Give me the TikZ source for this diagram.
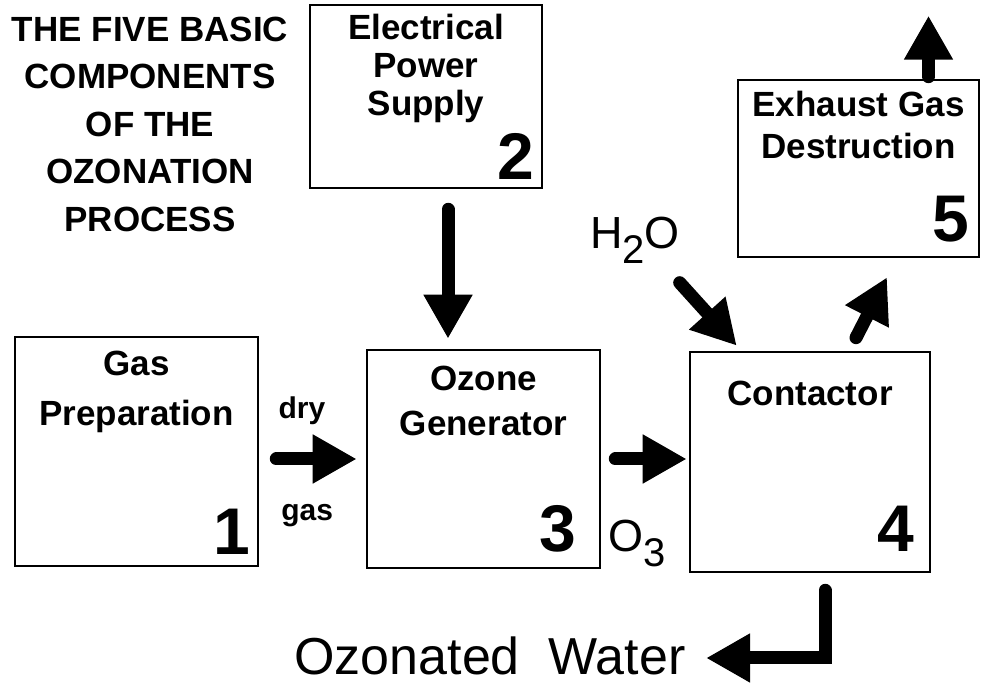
\documentclass[tikz,border=0pt]{standalone}
\usepackage{fontspec}
\setmainfont{Liberation Sans}
\usepackage{tikz}
\usetikzlibrary{arrows.meta, positioning, calc}
\tikzstyle{unit}      = [rectangle, draw=black, line width=2.6pt, inner sep=0pt]
\tikzstyle{unitlabel} = [align=center, inner sep=0pt, font=\bfseries\fontsize{35}{45}\selectfont]
\tikzstyle{unitnum}   = [inner sep=0pt, anchor=base east, font=\bfseries\fontsize{66}{66}\selectfont]
\tikzstyle{flow}      = [line width=13pt, line cap=round, -{Triangle[length=44pt,width=46pt]}]

\begin{document}
\begin{tikzpicture}[x=1pt, y=1pt]
  \useasboundingbox (0,0) rectangle (982,687);
  \node (title) [align=center, font=\bfseries\fontsize{35}{47.5}\selectfont] at (150,563)
    {THE FIVE BASIC\\COMPONENTS\\OF THE\\OZONATION\\PROCESS};

  % the five units
  \node (gasprep)   [unit, minimum width=243pt, minimum height=229pt] at (136.5,235.5) {};
  \node (power)     [unit, minimum width=232pt, minimum height=183pt] at (426,590.5) {};
  \node (ozgen)     [unit, minimum width=233pt, minimum height=218pt] at (483.5,228) {};
  \node (contactor) [unit, minimum width=240pt, minimum height=220pt] at (810,225) {};
  \node (exhaust)   [unit, minimum width=241pt, minimum height=177pt] at (858.5,518.5) {};

  \node (gasprep-txt)   [unitlabel, below=15pt of gasprep.north, font=\bfseries\fontsize{35}{50}\selectfont] {Gas\\Preparation};
  \node (power-txt)     [unitlabel, below=10pt of power.north, font=\bfseries\fontsize{35}{38}\selectfont] {Electrical\\Power\\Supply};
  \node (ozgen-txt)     [unitlabel, below=17pt of ozgen.north] {Ozone\\Generator};
  \node (contactor-txt) [unitlabel, below=30pt of contactor.north] {Contactor};
  \node (exhaust-txt)   [unitlabel, below=12pt of exhaust.north, font=\bfseries\fontsize{35}{42}\selectfont] {Exhaust Gas\\Destruction};

  \node (gasprep-num)   [unitnum] at ([xshift=-9pt, yshift=13pt]gasprep.south east) {1};
  \node (power-num)     [unitnum] at ([xshift=-9pt, yshift=10pt]power.south east) {2};
  \node (ozgen-num)     [unitnum] at ([xshift=-25pt, yshift=18pt]ozgen.south east) {3};
  \node (contactor-num) [unitnum] at ([xshift=-17pt, yshift=22pt]contactor.south east) {4};
  \node (exhaust-num)   [unitnum] at ([xshift=-11pt, yshift=17pt]exhaust.south east) {5};

  \node (h2o) [font=\fontsize{45}{45}\selectfont] at (635,447) {H\raisebox{-15pt}{\fontsize{40}{40}\selectfont 2}O};
  \node (o3)  [font=\fontsize{45}{45}\selectfont] at (637,144) {O\raisebox{-15pt}{\fontsize{40}{40}\selectfont 3}};
  \node (ozwater) [font=\fontsize{52}{52}\selectfont] at (490,31) {Ozonated \ Water};

  % flows
  \draw[flow, shorten <=17pt, shorten >=9pt] (gasprep.east |- ozgen.west) -- (ozgen.west)
    node[pos=0.4, yshift=48pt, font=\bfseries\fontsize{30}{30}\selectfont] (dry) {dry}
    node[pos=0.45, yshift=-57pt, font=\bfseries\fontsize{30}{30}\selectfont] (gas) {gas};
  \draw[flow] ([xshift=22pt, yshift=-20pt]power.south) -- ([xshift=-35.5pt, yshift=10pt]ozgen.north);
  \draw[flow, shorten <=14pt, shorten >=2pt] (ozgen.east) -- (contactor.west |- ozgen.east);
  \draw[flow] ([xshift=-9pt, yshift=68pt]contactor.north west) -- ([xshift=48pt, yshift=5pt]contactor.north west);
  \draw[flow] ([xshift=46pt, yshift=13pt]contactor.north) -- ([xshift=28.5pt, yshift=-19pt]exhaust.south);
  \draw[flow] ([xshift=70pt, yshift=2pt]exhaust.north) -- ++(0,61pt);
  \draw[flow] ([xshift=15pt, yshift=-17pt]contactor.south) |- ([xshift=17pt, yshift=-2pt]ozwater.east);
\end{tikzpicture}
\end{document}
